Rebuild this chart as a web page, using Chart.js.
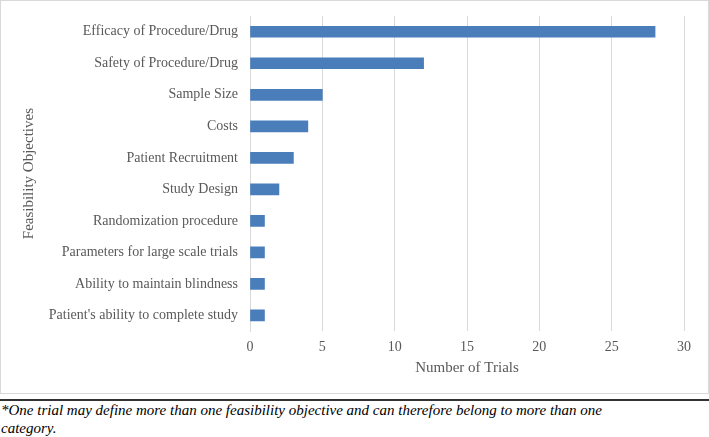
<!DOCTYPE html>
<html>
<head>
<meta charset="utf-8">
<script src="https://cdn.jsdelivr.net/npm/chart.js@4/dist/chart.umd.min.js"></script>
<style>
  body { margin: 0; background: #fff; width: 709px; height: 437px; overflow: hidden; }
  .box { position: absolute; left: 0; top: 0; width: 707px; height: 392px; border: 1px solid #d9d9d9; }
  .box canvas { display: block; }
  .rule { position: absolute; left: 0; top: 399px; width: 709px; height: 2px; background: #333; }
  .note { position: absolute; left: 1px; top: 401px; width: 610px; font: italic 15px "Liberation Serif", serif; line-height: 18px; color: #000; }
</style>
</head>
<body>
<div class="box"><canvas id="chart" width="707" height="392"></canvas></div>
<div class="rule"></div>
<div class="note">*One trial may define more than one feasibility objective and can therefore belong to more than one category.</div>
<script>
const categories = [
    'Efficacy of Procedure/Drug',
    'Safety of Procedure/Drug',
    'Sample Size',
    'Costs',
    'Patient Recruitment',
    'Study Design',
    'Randomization procedure',
    'Parameters for large scale trials',
    'Ability to maintain blindness',
    "Patient's ability to complete study"
]
const trials = [28, 12, 5, 4, 3, 2, 1, 1, 1, 1]
const xTicks = [0, 5, 10, 15, 20, 25, 30]

const serif = '"Liberation Serif", serif'
const grey = '#595959'

const ctx = document.getElementById('chart').getContext('2d')

new Chart(ctx, {
    type: 'bar',
    data: {
        labels: categories,
        datasets: [{
            label: 'Number of Trials',
            data: trials,
            backgroundColor: '#4a7ebb',
            barThickness: 11
        }]
    },
    options: {
        indexAxis: 'y',
        responsive: false,
        animation: false,
        layout: { padding: { left: 19, right: 24, top: 15, bottom: 16 } },
        plugins: { legend: { display: false }, tooltip: { enabled: false } },
        scales: {
            x: {
                min: 0,
                max: 30,
                afterBuildTicks: (scale) => { scale.ticks = xTicks.map(v => ({ value: v })) },
                grid: { color: '#d9d9d9', drawTicks: false },
                border: { display: false },
                ticks: { color: grey, font: { family: serif, size: 14 }, padding: 8 },
                title: { display: true, text: 'Number of Trials', color: grey, font: { family: serif, size: 15 }, padding: { top: -5, bottom: 0 } }
            },
            y: {
                grid: { display: false, drawTicks: false },
                border: { display: true, color: '#d9d9d9' },
                ticks: { color: grey, font: { family: serif, size: 14 }, padding: 12 },
                title: { display: true, text: 'Feasibility Objectives', color: grey, font: { family: serif, size: 15 }, padding: 0 },
                afterFit: (scale) => {
                    scale.width = 230
                    scale.paddingTop = 0
                    scale.paddingBottom = 0
                }
            }
        }
    }
})
</script>
</body>
</html>
